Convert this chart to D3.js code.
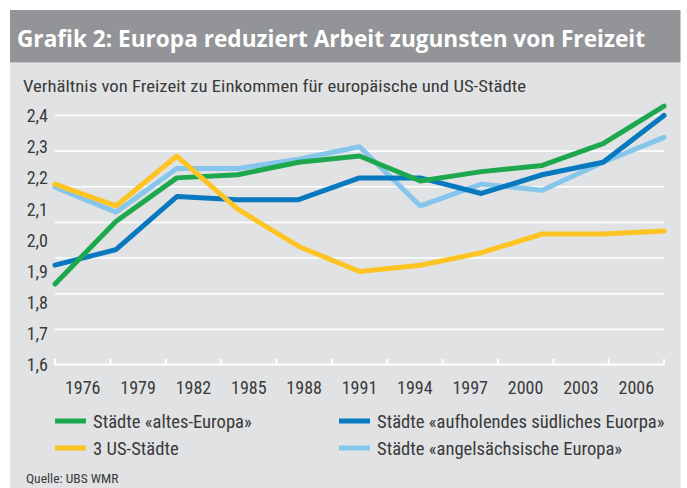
<!DOCTYPE html>
<html><head><meta charset="utf-8">
<script src="https://cdn.jsdelivr.net/npm/d3@7"></script>
<style>
html,body{margin:0;padding:0;background:#fff;}
svg{display:block;}
</style></head>
<body>
<svg id="chart" width="687" height="488"></svg>
<script>
const years = [1976, 1979, 1982, 1985, 1988, 1991, 1994, 1997, 2000, 2003, 2006];
const yTicks = [1.6, 1.7, 1.8, 1.9, 2.0, 2.1, 2.2, 2.3, 2.4];
const altesEuropa   = [1.86, 2.06, 2.20, 2.21, 2.25, 2.27, 2.19, 2.22, 2.24, 2.31, 2.43];
const suedEuropa    = [1.92, 1.97, 2.14, 2.13, 2.13, 2.20, 2.20, 2.15, 2.21, 2.25, 2.40];
const usStaedte     = [2.18, 2.11, 2.27, 2.10, 1.98, 1.90, 1.92, 1.96, 2.02, 2.02, 2.03];
const angelEuropa   = [2.17, 2.09, 2.23, 2.23, 2.26, 2.30, 2.11, 2.18, 2.16, 2.25, 2.33];
const seriesNames = ["Städte «altes-Europa»", "Städte «aufholendes südliches Euorpa»", "3 US-Städte", "Städte «angelsächsische Europa»"];
const seriesColors = ["#1ea84e", "#0878bf", "#fec424", "#86c5ec"];

const title = "Grafik 2: Europa reduziert Arbeit zugunsten von Freizeit";
const subtitle = "Verhältnis von Freizeit zu Einkommen für europäische und US-Städte";
const source = "Quelle: UBS WMR";

const series = [
  {name: seriesNames[0], color: seriesColors[0], values: altesEuropa},
  {name: seriesNames[1], color: seriesColors[1], values: suedEuropa},
  {name: seriesNames[2], color: seriesColors[2], values: usStaedte},
  {name: seriesNames[3], color: seriesColors[3], values: angelEuropa}
];

const FONT = "'Liberation Sans Narrow','Arial Narrow','Roboto Condensed','Open Sans',sans-serif";
const TXT = "#3a3a3a";
const svg = d3.select("#chart");

// background panels
svg.append("rect").attr("x",10).attr("y",62.5).attr("width",670.5).attr("height",425.5).attr("fill","#e1e2e3");
svg.append("rect").attr("x",10).attr("y",10).attr("width",670.5).attr("height",52.5).attr("fill","#929497");

svg.append("text").attr("x",17).attr("y",47).attr("fill","#fff")
  .attr("font-family","'Open Sans',sans-serif").attr("font-weight","bold").attr("font-size",23)
  .attr("textLength",628).attr("lengthAdjust","spacingAndGlyphs").text(title);

svg.append("text").attr("x",23).attr("y",92).attr("fill",TXT)
  .attr("font-family",FONT).attr("font-size",17)
  .attr("textLength",503).attr("lengthAdjust","spacingAndGlyphs").text(subtitle);

// scales
const x = d3.scalePoint().domain(years).range([55, 664]);
const xBand = d3.scaleBand().domain(years).range([55, 664]).padding(0);
const y = d3.scaleLinear().domain([1.6, 2.4]).range([365, 115.5]);

// gridlines (7 evenly spaced white lines above the axis)
const gridPos = d3.range(1, 8).map(i => 365 - i * (365 - 115.5) / 7);
svg.append("g").selectAll("line").data(gridPos).join("line")
  .attr("x1",55).attr("x2",664).attr("y1",d=>d).attr("y2",d=>d)
  .attr("stroke","#fff").attr("stroke-width",1.6);

// y tick labels
svg.append("g").selectAll("text").data(yTicks).join("text")
  .attr("x",48).attr("y",d=>y(d)).attr("dy","0.36em").attr("text-anchor","end")
  .attr("font-family",FONT).attr("font-size",18).attr("fill",TXT)
  .text(d => d3.format(".1f")(d).replace(".", ","));

// x axis
const xAxis = d3.axisBottom(xBand).tickSize(0).tickPadding(0);
const gx = svg.append("g").attr("transform","translate(0,364.5)").call(xAxis);
gx.select(".domain").remove();
gx.selectAll("text").attr("font-family",FONT).attr("font-size",18).attr("fill",TXT).attr("dy","1.65em");
svg.append("line").attr("x1",55).attr("x2",664).attr("y1",364.5).attr("y2",364.5).attr("stroke","#fff").attr("stroke-width",2);
const tickX = years.map(yr => xBand(yr)).concat([xBand(years[years.length-1]) + xBand.bandwidth()]);
svg.append("g").selectAll("line").data(tickX).join("line")
  .attr("x1",d=>d).attr("x2",d=>d).attr("y1",364.5).attr("y2",359)
  .attr("stroke","#fff").attr("stroke-width",2);

// lines: draw order bottom->top
const line = d3.line().x((d,i)=>x(years[i])).y(d=>y(d));
const order = [3, 1, 0, 2];
svg.append("g").selectAll("path").data(order.map(i=>series[i])).join("path")
  .attr("d", d=>line(d.values)).attr("fill","none").attr("stroke",d=>d.color)
  .attr("stroke-width",5).attr("stroke-linejoin","round").attr("stroke-linecap","round");

// legend
const legendPos = [
  {x:55, y:421}, {x:339, y:421}, {x:55, y:448}, {x:339, y:448}
];
const lg = svg.append("g").selectAll("g").data(series).join("g")
  .attr("transform",(d,i)=>`translate(${legendPos[i].x},${legendPos[i].y})`);
lg.append("rect").attr("x",0).attr("y",-2.5).attr("width",31).attr("height",5).attr("fill",d=>d.color);
lg.append("text").attr("x",38).attr("y",0).attr("dy","0.36em")
  .attr("font-family",FONT).attr("font-size",18.6).attr("fill",TXT).text(d=>d.name);

svg.append("text").attr("x",26).attr("y",483).attr("fill",TXT)
  .attr("font-family",FONT).attr("font-size",13.5).text(source);
</script>
</body></html>
